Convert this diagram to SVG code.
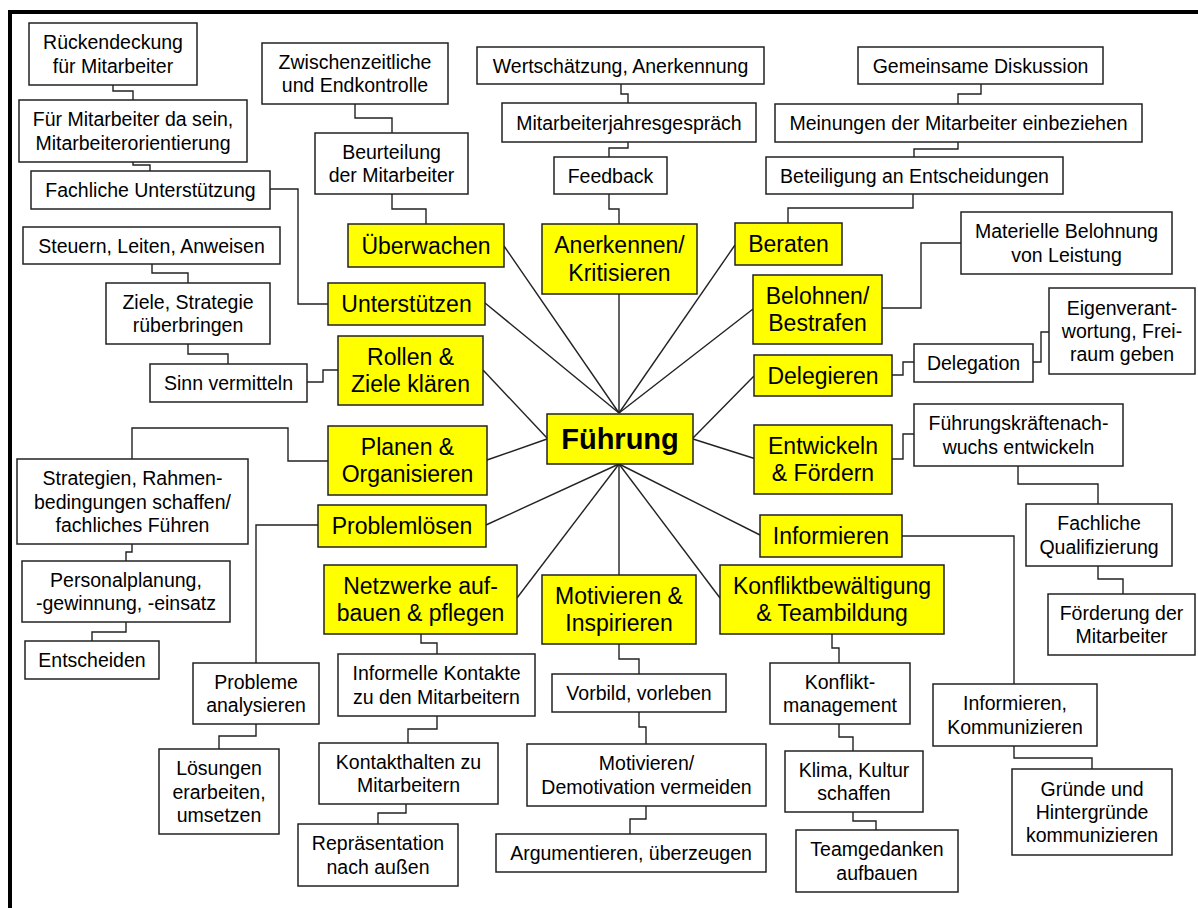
<svg xmlns="http://www.w3.org/2000/svg" width="1198" height="908" viewBox="0 0 1198 908">
<style>
.bw{fill:#ffffff;stroke:#222;stroke-width:1.5}
.by{fill:#ffff00;stroke:#222;stroke-width:1.5}
.tw{font-family:"Liberation Sans",Arial,sans-serif;font-size:19.5px;fill:#000;text-anchor:middle}
.ty{font-family:"Liberation Sans",Arial,sans-serif;font-size:23px;fill:#000;text-anchor:middle}
.th{font-family:"Liberation Sans",Arial,sans-serif;font-size:29px;font-weight:bold;fill:#000;text-anchor:middle}
#connectors polyline,#connectors line{fill:none;stroke:#222;stroke-width:1.4}
</style>
<rect x="0" y="0" width="1198" height="908" fill="#ffffff"/>
<g id="frame">
<line x1="8" y1="12" x2="1198" y2="12" stroke="#000" stroke-width="4"/>
<line x1="10" y1="10" x2="10" y2="908" stroke="#000" stroke-width="4"/>
</g>
<g id="connectors">
<line x1="619" y1="413" x2="504" y2="246"/>
<line x1="619" y1="413" x2="485" y2="303"/>
<line x1="619" y1="413" x2="619" y2="294"/>
<line x1="619" y1="413" x2="735" y2="245"/>
<line x1="619" y1="413" x2="753" y2="309"/>
<line x1="483" y1="370" x2="547" y2="438"/>
<line x1="487" y1="460" x2="547" y2="439"/>
<line x1="754" y1="376" x2="693" y2="438"/>
<line x1="756" y1="459" x2="693" y2="439"/>
<line x1="619" y1="464" x2="486" y2="525"/>
<line x1="619" y1="464" x2="517" y2="598"/>
<line x1="619" y1="464" x2="619" y2="575"/>
<line x1="619" y1="464" x2="720" y2="598"/>
<line x1="619" y1="464" x2="760" y2="535"/>
<polyline points="113,85 113,91 133,91 133,100"/>
<polyline points="133,162 133,165 150,165 150,171"/>
<polyline points="270,189 298,189 298,304 328,304"/>
<polyline points="152,264 152,273 188,273 188,283"/>
<polyline points="188,344 188,354 228,354 228,364"/>
<polyline points="307,382 323,382 323,370 338,370"/>
<polyline points="328,461 288,461 288,428 132,428 132,459"/>
<polyline points="132,544 132,552 126,552 126,561"/>
<polyline points="126,622 126,632 92,632 92,641"/>
<polyline points="318,525 256,525 256,663"/>
<polyline points="256,724 256,736 219,736 219,749"/>
<polyline points="355,104 355,118 392,118 392,133"/>
<polyline points="392,194 392,209 426,209 426,224"/>
<polyline points="621,84 621,94 628,94 628,103"/>
<polyline points="628,142 628,148 609,148 609,157"/>
<polyline points="609,194 609,209 619,209 619,224"/>
<polyline points="981,84 981,94 958,94 958,104"/>
<polyline points="958,142 958,149 914,149 914,157"/>
<polyline points="913,194 913,208 788,208 788,223"/>
<polyline points="961,243 921,243 921,308 882,308"/>
<polyline points="892,375 903,375 903,362 914,362"/>
<polyline points="1033,362 1041,362 1041,332 1049,332"/>
<polyline points="892,459 903,459 903,434 914,434"/>
<polyline points="1018,466 1018,484 1098,484 1098,504"/>
<polyline points="1098,566 1098,579 1123,579 1123,594"/>
<polyline points="902,536 1014,536 1014,684"/>
<polyline points="1014,746 1014,758 1092,758 1092,769"/>
<polyline points="421,634 421,643 437,643 437,654"/>
<polyline points="437,716 437,729 408,729 408,743"/>
<polyline points="406,804 406,813 378,813 378,824"/>
<polyline points="619,644 619,659 639,659 639,674"/>
<polyline points="639,712 639,727 646,727 646,744"/>
<polyline points="646,806 646,819 630,819 630,834"/>
<polyline points="832,634 832,648 839,648 839,663"/>
<polyline points="839,724 839,737 853,737 853,751"/>
<polyline points="853,812 853,821 876,821 876,830"/>
</g>
<g id="hub"><rect class="by" x="547" y="414" width="146" height="50"/><text class="th" x="620" y="449">Führung</text></g>
<g id="y_ueberwachen"><rect class="by" x="348" y="224" width="156" height="43"/><text class="ty" x="426" y="253.5">Überwachen</text></g>
<g id="y_unterstuetzen"><rect class="by" x="328" y="283" width="157" height="42"/><text class="ty" x="406.5" y="312">Unterstützen</text></g>
<g id="y_rollen"><rect class="by" x="338" y="336" width="145" height="69"/><text class="ty"><tspan x="410.5" y="364.7">Rollen &amp;</tspan><tspan x="410.5" y="392.3">Ziele klären</tspan></text></g>
<g id="y_planen"><rect class="by" x="328" y="426" width="159" height="69"/><text class="ty"><tspan x="407.5" y="454.7">Planen &amp;</tspan><tspan x="407.5" y="482.3">Organisieren</tspan></text></g>
<g id="y_problemloesen"><rect class="by" x="318" y="505" width="168" height="42"/><text class="ty" x="402" y="534">Problemlösen</text></g>
<g id="y_netzwerke"><rect class="by" x="324" y="565" width="193" height="69"/><text class="ty"><tspan x="420.5" y="593.7">Netzwerke auf-</tspan><tspan x="420.5" y="621.3">bauen &amp; pflegen</tspan></text></g>
<g id="y_anerkennen"><rect class="by" x="542" y="224" width="155" height="70"/><text class="ty"><tspan x="619.5" y="253.2">Anerkennen/</tspan><tspan x="619.5" y="280.8">Kritisieren</tspan></text></g>
<g id="y_beraten"><rect class="by" x="735" y="223" width="107" height="42"/><text class="ty" x="788.5" y="252">Beraten</text></g>
<g id="y_belohnen"><rect class="by" x="753" y="275" width="129" height="69"/><text class="ty"><tspan x="817.5" y="303.7">Belohnen/</tspan><tspan x="817.5" y="331.3">Bestrafen</tspan></text></g>
<g id="y_delegieren"><rect class="by" x="754" y="355" width="138" height="41"/><text class="ty" x="823" y="383.5">Delegieren</text></g>
<g id="y_entwickeln"><rect class="by" x="754" y="425" width="138" height="69"/><text class="ty"><tspan x="823" y="453.7">Entwickeln</tspan><tspan x="823" y="481.3">&amp; Fördern</tspan></text></g>
<g id="y_informieren"><rect class="by" x="760" y="515" width="142" height="42"/><text class="ty" x="831" y="544">Informieren</text></g>
<g id="y_motivieren"><rect class="by" x="542" y="575" width="154" height="69"/><text class="ty"><tspan x="619" y="603.7">Motivieren &amp;</tspan><tspan x="619" y="631.3">Inspirieren</tspan></text></g>
<g id="y_konflikt"><rect class="by" x="720" y="565" width="224" height="69"/><text class="ty"><tspan x="832" y="593.7">Konfliktbewältigung</tspan><tspan x="832" y="621.3">&amp; Teambildung</tspan></text></g>
<g id="w_rueck"><rect class="bw" x="29" y="23" width="168" height="62"/><text class="tw"><tspan x="113" y="49.4">Rückendeckung</tspan><tspan x="113" y="72.7">für Mitarbeiter</tspan></text></g>
<g id="w_fuer"><rect class="bw" x="19" y="100" width="228" height="62"/><text class="tw"><tspan x="133" y="126.4">Für Mitarbeiter da sein,</tspan><tspan x="133" y="149.7">Mitarbeiterorientierung</tspan></text></g>
<g id="w_fachl"><rect class="bw" x="31" y="171" width="239" height="38"/><text class="tw" x="150.5" y="197">Fachliche Unterstützung</text></g>
<g id="w_steuern"><rect class="bw" x="23" y="227" width="257" height="37"/><text class="tw" x="151.5" y="252.5">Steuern, Leiten, Anweisen</text></g>
<g id="w_ziele"><rect class="bw" x="106" y="283" width="164" height="61"/><text class="tw"><tspan x="188" y="308.9">Ziele, Strategie</tspan><tspan x="188" y="332.2">rüberbringen</tspan></text></g>
<g id="w_sinn"><rect class="bw" x="150" y="364" width="157" height="38"/><text class="tw" x="228.5" y="390">Sinn vermitteln</text></g>
<g id="w_strat"><rect class="bw" x="17" y="459" width="231" height="85"/><text class="tw"><tspan x="132.5" y="485.2">Strategien, Rahmen-</tspan><tspan x="132.5" y="508.5">bedingungen schaffen/</tspan><tspan x="132.5" y="531.8">fachliches Führen</tspan></text></g>
<g id="w_pers"><rect class="bw" x="22" y="561" width="208" height="61"/><text class="tw"><tspan x="126" y="586.9">Personalplanung,</tspan><tspan x="126" y="610.2">-gewinnung, -einsatz</tspan></text></g>
<g id="w_entsch"><rect class="bw" x="25" y="641" width="134" height="38"/><text class="tw" x="92" y="667">Entscheiden</text></g>
<g id="w_probleme"><rect class="bw" x="193" y="663" width="126" height="61"/><text class="tw"><tspan x="256" y="688.9">Probleme</tspan><tspan x="256" y="712.2">analysieren</tspan></text></g>
<g id="w_loesungen"><rect class="bw" x="159" y="749" width="120" height="85"/><text class="tw"><tspan x="219" y="775.2">Lösungen</tspan><tspan x="219" y="798.5">erarbeiten,</tspan><tspan x="219" y="821.8">umsetzen</tspan></text></g>
<g id="w_zwisch"><rect class="bw" x="262" y="43" width="186" height="61"/><text class="tw"><tspan x="355" y="68.9">Zwischenzeitliche</tspan><tspan x="355" y="92.2">und Endkontrolle</tspan></text></g>
<g id="w_beurt"><rect class="bw" x="315" y="133" width="153" height="61"/><text class="tw"><tspan x="391.5" y="158.9">Beurteilung</tspan><tspan x="391.5" y="182.2">der Mitarbeiter</tspan></text></g>
<g id="w_wert"><rect class="bw" x="477" y="47" width="287" height="37"/><text class="tw" x="620.5" y="72.5">Wertschätzung, Anerkennung</text></g>
<g id="w_mjg"><rect class="bw" x="502" y="103" width="254" height="39"/><text class="tw" x="629" y="129.5">Mitarbeiterjahresgespräch</text></g>
<g id="w_feedback"><rect class="bw" x="554" y="157" width="113" height="37"/><text class="tw" x="610.5" y="182.5">Feedback</text></g>
<g id="w_gem"><rect class="bw" x="858" y="47" width="245" height="37"/><text class="tw" x="980.5" y="72.5">Gemeinsame Diskussion</text></g>
<g id="w_meinungen"><rect class="bw" x="775" y="104" width="367" height="38"/><text class="tw" x="958.5" y="130">Meinungen der Mitarbeiter einbeziehen</text></g>
<g id="w_beteiligung"><rect class="bw" x="766" y="157" width="297" height="37"/><text class="tw" x="914.5" y="182.5">Beteiligung an Entscheidungen</text></g>
<g id="w_materiell"><rect class="bw" x="961" y="212" width="211" height="62"/><text class="tw"><tspan x="1066.5" y="238.4">Materielle Belohnung</tspan><tspan x="1066.5" y="261.7">von Leistung</tspan></text></g>
<g id="w_eigen"><rect class="bw" x="1049" y="288" width="146" height="86"/><text class="tw"><tspan x="1122" y="314.7">Eigenverant-</tspan><tspan x="1122" y="338">wortung, Frei-</tspan><tspan x="1122" y="361.3">raum geben</tspan></text></g>
<g id="w_delegation"><rect class="bw" x="914" y="344" width="119" height="38"/><text class="tw" x="973.5" y="370">Delegation</text></g>
<g id="w_fknach"><rect class="bw" x="914" y="404" width="209" height="62"/><text class="tw"><tspan x="1018.5" y="430.4">Führungskräftenach-</tspan><tspan x="1018.5" y="453.7">wuchs entwickeln</tspan></text></g>
<g id="w_fachq"><rect class="bw" x="1026" y="504" width="146" height="62"/><text class="tw"><tspan x="1099" y="530.4">Fachliche</tspan><tspan x="1099" y="553.7">Qualifizierung</tspan></text></g>
<g id="w_foerderung"><rect class="bw" x="1048" y="594" width="147" height="61"/><text class="tw"><tspan x="1121.5" y="619.9">Förderung der</tspan><tspan x="1121.5" y="643.2">Mitarbeiter</tspan></text></g>
<g id="w_infkomm"><rect class="bw" x="933" y="684" width="164" height="62"/><text class="tw"><tspan x="1015" y="710.4">Informieren,</tspan><tspan x="1015" y="733.7">Kommunizieren</tspan></text></g>
<g id="w_gruende"><rect class="bw" x="1012" y="769" width="160" height="86"/><text class="tw"><tspan x="1092" y="795.7">Gründe und</tspan><tspan x="1092" y="819">Hintergründe</tspan><tspan x="1092" y="842.3">kommunizieren</tspan></text></g>
<g id="w_infkont"><rect class="bw" x="338" y="654" width="197" height="62"/><text class="tw"><tspan x="436.5" y="680.4">Informelle Kontakte</tspan><tspan x="436.5" y="703.7">zu den Mitarbeitern</tspan></text></g>
<g id="w_kontakt"><rect class="bw" x="319" y="743" width="179" height="61"/><text class="tw"><tspan x="408.5" y="768.9">Kontakthalten zu</tspan><tspan x="408.5" y="792.2">Mitarbeitern</tspan></text></g>
<g id="w_repr"><rect class="bw" x="298" y="824" width="160" height="62"/><text class="tw"><tspan x="378" y="850.4">Repräsentation</tspan><tspan x="378" y="873.7">nach außen</tspan></text></g>
<g id="w_vorbild"><rect class="bw" x="552" y="674" width="174" height="38"/><text class="tw" x="639" y="700">Vorbild, vorleben</text></g>
<g id="w_motdem"><rect class="bw" x="527" y="744" width="239" height="62"/><text class="tw"><tspan x="646.5" y="770.4">Motivieren/</tspan><tspan x="646.5" y="793.7">Demotivation vermeiden</tspan></text></g>
<g id="w_argu"><rect class="bw" x="496" y="834" width="270" height="38"/><text class="tw" x="631" y="860">Argumentieren, überzeugen</text></g>
<g id="w_konfm"><rect class="bw" x="770" y="663" width="140" height="61"/><text class="tw"><tspan x="840" y="688.9">Konflikt-</tspan><tspan x="840" y="712.2">management</tspan></text></g>
<g id="w_klima"><rect class="bw" x="785" y="751" width="138" height="61"/><text class="tw"><tspan x="854" y="776.9">Klima, Kultur</tspan><tspan x="854" y="800.2">schaffen</tspan></text></g>
<g id="w_team"><rect class="bw" x="796" y="830" width="162" height="62"/><text class="tw"><tspan x="877" y="856.4">Teamgedanken</tspan><tspan x="877" y="879.7">aufbauen</tspan></text></g>
</svg>
